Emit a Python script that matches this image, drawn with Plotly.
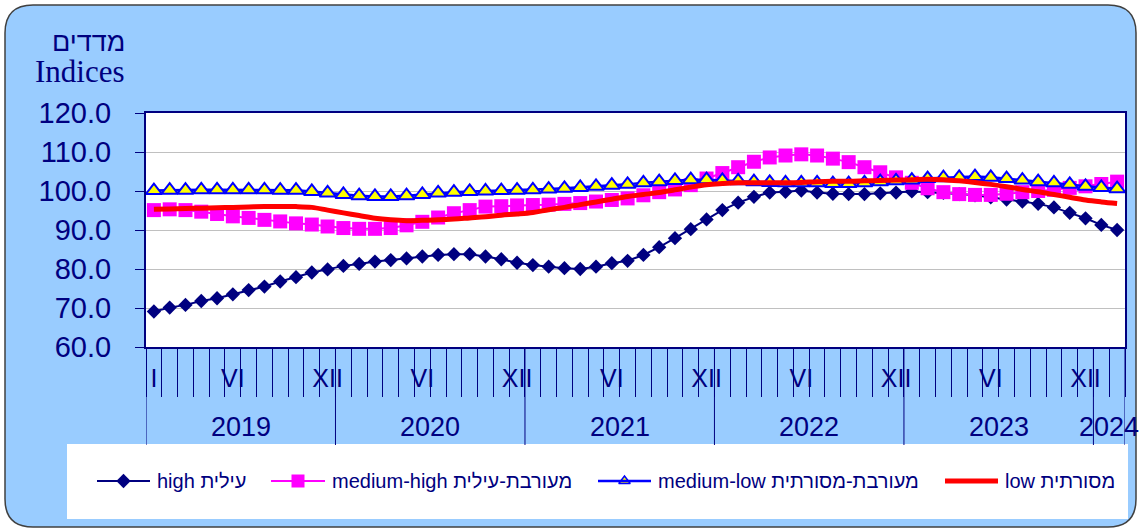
import plotly.graph_objects as go

# monthly indices, Jan 2019 .. Feb 2024
years = ["2019", "2020", "2021", "2022", "2023", "2024"]
months_per_year = [12, 12, 12, 12, 12, 2]

high = [69.1, 70.1, 70.8, 71.8, 72.5, 73.5, 74.6, 75.5, 76.8, 77.9, 79.1, 79.9,
        80.8, 81.3, 81.9, 82.3, 82.7, 83.2, 83.6, 83.8, 83.8, 83.2, 82.5, 81.6,
        81.0, 80.6, 80.2, 80.0, 80.6, 81.5, 82.1, 83.6, 85.6, 87.9, 90.2, 92.7,
        95.1, 97.0, 98.5, 99.6, 99.8, 100.1, 99.6, 99.3, 99.2, 99.2, 99.4, 99.6,
        99.9, 99.7, 99.5, 99.2, 98.9, 98.4, 97.8, 97.3, 96.7, 95.8, 94.4, 93.0,
        91.3, 90.0]
medium_high = [95.1, 95.3, 95.1, 94.7, 94.1, 93.5, 93.1, 92.6, 92.2, 91.7, 91.4, 90.9,
               90.5, 90.3, 90.3, 90.5, 91.2, 92.1, 93.2, 94.3, 95.1, 96.0, 96.1, 96.3,
               96.4, 96.5, 96.7, 96.9, 97.3, 97.7, 98.1, 98.9, 99.7, 100.4, 101.5, 103.2,
               104.6, 106.1, 107.5, 108.6, 109.1, 109.4, 109.1, 108.3, 107.4, 106.1, 104.8, 103.5,
               102.1, 100.7, 99.7, 99.2, 99.0, 99.0, 99.3, 99.7, 100.0, 100.3, 100.8, 101.2,
               101.8, 102.4]
medium_low = [100.1, 100.2, 100.2, 100.3, 100.3, 100.3, 100.3, 100.3, 100.2, 100.2, 99.9, 99.5,
              99.1, 98.8, 98.6, 98.6, 98.8, 99.1, 99.5, 99.7, 99.9, 100.0, 100.1, 100.2,
              100.3, 100.5, 100.7, 100.9, 101.2, 101.5, 101.7, 102.1, 102.4, 102.7, 102.9, 102.9,
              102.7, 102.6, 102.4, 102.2, 102.1, 102.1, 102.1, 101.9, 101.9, 102.1, 102.4, 102.6,
              102.8, 103.2, 103.4, 103.5, 103.7, 103.5, 103.2, 102.8, 102.4, 102.1, 101.7, 101.2,
              100.9, 100.6]
low = [95.3, 95.4, 95.5, 95.6, 95.7, 95.8, 95.9, 96.0, 96.0, 96.0, 95.8, 95.1,
       94.4, 93.7, 93.0, 92.6, 92.4, 92.5, 92.6, 92.8, 93.1, 93.4, 93.8, 94.1,
       94.5, 95.2, 95.8, 96.5, 97.2, 97.9, 98.6, 99.1, 99.6, 100.3, 101.0, 101.6,
       101.9, 102.1, 102.1, 102.1, 102.1, 102.2, 102.4, 102.5, 102.5, 102.6, 102.7, 102.8,
       102.9, 103.0, 102.9, 102.6, 102.2, 101.7, 101.1, 100.4, 99.8, 99.1, 98.4, 97.7,
       97.2, 96.8]

month_label_pos = [0, 5, 11, 17, 23, 29, 35, 41, 47, 53, 59]
month_label_text = ["I", "VI", "XII", "VI", "XII", "VI", "XII", "VI", "XII", "VI", "XII"]

names = ["high עילית", "medium-high מעורבת-עילית", "medium-low מעורבת-מסורתית", "low מסורתית"]

NAVY = "#000080"
SANS = "Liberation Sans, Arial, DejaVu Sans"
W, H = 1140, 531
L, R, T, B = 146, 1125, 113, 347   # plot area in pixels
n = len(high)
x = list(range(n))


def px(v):
    return v / W


def py(v):
    return 1 - v / H


fig = go.Figure()
fig.add_trace(go.Scatter(x=x, y=high, mode="lines+markers", name=names[0],
                         line=dict(color=NAVY, width=2),
                         marker=dict(symbol="diamond", size=11, color=NAVY)))
fig.add_trace(go.Scatter(x=x, y=medium_high, mode="lines+markers", name=names[1],
                         line=dict(color="#FF00FF", width=2),
                         marker=dict(symbol="square", size=14, color="#FF00FF")))
fig.add_trace(go.Scatter(x=x, y=medium_low, mode="lines+markers", name=names[2],
                         line=dict(color="#0000FF", width=2.5),
                         marker=dict(symbol="triangle-up", size=14, color="#FFFF00",
                                     line=dict(color="#0000FF", width=2))))
fig.add_trace(go.Scatter(x=x, y=low, mode="lines", name=names[3],
                         line=dict(color="#FF0000", width=5, shape="spline", smoothing=1)))

# background: rounded panel, white plot area, white legend box
x0, y0, x1, y1, r = 5, 5, 1136, 527, 28
panel = (f"M {px(x0 + r)},{py(y0)} L {px(x1 - r)},{py(y0)} Q {px(x1)},{py(y0)} {px(x1)},{py(y0 + r)} "
         f"L {px(x1)},{py(y1 - r)} Q {px(x1)},{py(y1)} {px(x1 - r)},{py(y1)} "
         f"L {px(x0 + r)},{py(y1)} Q {px(x0)},{py(y1)} {px(x0)},{py(y1 - r)} "
         f"L {px(x0)},{py(y0 + r)} Q {px(x0)},{py(y0)} {px(x0 + r)},{py(y0)} Z")
shapes = [
    dict(type="path", path=panel, xref="paper", yref="paper", layer="below",
         fillcolor="#99CCFF", line=dict(color="#404040", width=1.5)),
    dict(type="rect", xref="paper", yref="paper", x0=px(L), x1=px(R), y0=py(B), y1=py(T),
         layer="below", fillcolor="white", line=dict(width=0)),
    dict(type="rect", xref="paper", yref="paper", x0=px(67), x1=px(1128), y0=py(444), y1=py(519),
         layer="below", fillcolor="white", line=dict(width=0)),
]

# year separators below the axis
bounds = [0]
for m in months_per_year:
    bounds.append(bounds[-1] + m)
for b in bounds:
    shapes.append(dict(type="line", xref="x", yref="paper", x0=b - 0.5, x1=b - 0.5,
                       y0=py(B), y1=py(445), line=dict(color=NAVY, width=1)))

annotations = []
for yr, a, b in zip(years, bounds[:-1], bounds[1:]):
    annotations.append(dict(x=(a + b - 1) / 2, y=py(427), xref="x", yref="paper", text=yr,
                            yanchor="middle", showarrow=False,
                            font=dict(family=SANS, size=27, color=NAVY)))

annotations.append(dict(x=px(127), y=py(42), xref="paper", yref="paper", text="מדדים",
                        xanchor="right", yanchor="middle", showarrow=False,
                        font=dict(family=SANS, size=27, color=NAVY)))
annotations.append(dict(x=px(127), y=py(72), xref="paper", yref="paper", text="Indices",
                        xanchor="right", yanchor="middle", showarrow=False,
                        font=dict(family="Liberation Serif, Times New Roman, serif", size=31, color=NAVY)))

# hand-placed legend (markers sit on a hidden full-figure pixel axis)
leg_y = 481
leg_items = [
    dict(x0=97, x1=150, tx=155, color=NAVY, width=2,
         marker=dict(symbol="diamond", size=11, color=NAVY)),
    dict(x0=271, x1=325, tx=330, color="#FF00FF", width=2,
         marker=dict(symbol="square", size=13, color="#FF00FF")),
    dict(x0=598, x1=651, tx=656, color="#0000FF", width=2.5,
         marker=dict(symbol="triangle-up", size=10, color="#FFFF00",
                     line=dict(color="#0000FF", width=1.5))),
    dict(x0=945, x1=998, tx=1003, color="#FF0000", width=5, marker=None),
]
for name, it in zip(names, leg_items):
    shapes.append(dict(type="line", xref="paper", yref="paper", x0=px(it["x0"]), x1=px(it["x1"]),
                       y0=py(leg_y), y1=py(leg_y), line=dict(color=it["color"], width=it["width"])))
    annotations.append(dict(x=px(it["tx"]), y=py(leg_y), xref="paper", yref="paper", text=name,
                            xanchor="left", yanchor="middle", showarrow=False,
                            font=dict(family=SANS, size=20, color=NAVY)))
    if it["marker"]:
        fig.add_trace(go.Scatter(x=[(it["x0"] + it["x1"]) / 2], y=[leg_y], xaxis="x2", yaxis="y2",
                                 mode="markers", marker=it["marker"],
                                 showlegend=False, hoverinfo="skip"))

fig.update_layout(
    width=W, height=H,
    margin=dict(l=0, r=0, t=0, b=0, pad=0, autoexpand=False),
    paper_bgcolor="white", plot_bgcolor="rgba(0,0,0,0)",
    showlegend=False,
    shapes=shapes, annotations=annotations,
    xaxis=dict(domain=[px(L), px(R)], range=[-0.5, n - 0.5], showgrid=False, zeroline=False,
               automargin=False,
               showline=True, mirror=True, linecolor=NAVY, linewidth=2,
               tickmode="array", tickvals=month_label_pos, ticktext=month_label_text,
               ticks="", ticklabelstandoff=8,
               tickfont=dict(family=SANS, size=25, color=NAVY),
               minor=dict(tick0=-0.5, dtick=1, ticks="outside", ticklen=48,
                          tickcolor=NAVY, tickwidth=1)),
    yaxis=dict(domain=[py(B), py(T)], range=[60, 120], tickvals=[60, 70, 80, 90, 100, 110, 120],
               tickformat=".1f", automargin=False,
               showgrid=True, gridcolor="#C0C0C0", gridwidth=1, zeroline=False,
               showline=True, mirror=True, linecolor=NAVY, linewidth=2,
               ticks="outside", ticklen=9, tickcolor=NAVY, tickwidth=1,
               ticklabelstandoff=18,
               tickfont=dict(family=SANS, size=29, color=NAVY)),
    xaxis2=dict(domain=[0, 1], range=[0, W], anchor="y2", visible=False, fixedrange=True,
                automargin=False),
    yaxis2=dict(domain=[0, 1], range=[H, 0], anchor="x2", visible=False, fixedrange=True,
                automargin=False),
)

fig.write_html("out.html", config={"displayModeBar": False, "responsive": False},
               post_script="document.body.style.margin='0';")
